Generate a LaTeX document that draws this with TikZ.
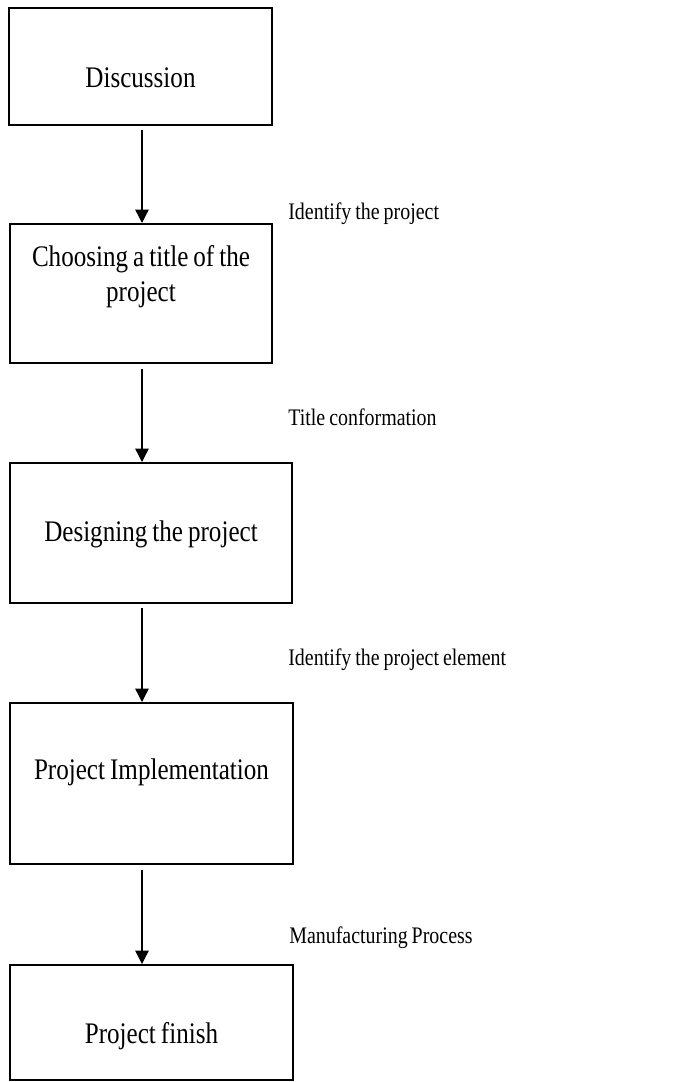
\documentclass[tikz,border=0pt]{standalone}
\usepackage{fontspec}
\setmainfont[FakeStretch=0.84, WordSpace=0.8]{Liberation Serif}
\usetikzlibrary{arrows.meta}

\begin{document}
\begin{tikzpicture}[x=0.02cm, y=-0.02cm,
    box/.style={draw, line width=1.4pt, inner sep=0pt, anchor=north,
      align=flush center, font=\fontsize{17}{20}\selectfont},
    flow/.style={line width=0.8pt, -{Triangle[length=0.27cm,width=0.27cm]}},
    note/.style={anchor=base west, inner sep=0pt,
      font=\fontsize{13.5}{16}\selectfont}]
\useasboundingbox (0,0) rectangle (673,1082);
\coordinate (axis) at (142,0);

% steps
\node[box, text width=5.26cm, text height=1.58cm, text depth=0.76cm] (disc) at (140.5,7) {Discussion};
\node[box, text width=5.24cm, text height=0.84cm, text depth=1.94cm] (title) at (141,223) {Choosing a title of the\\project};
\node[box, text width=5.64cm, text height=1.56cm, text depth=1.24cm] (design) at (151,462) {Designing the project};
\node[box, text width=5.66cm, text height=1.52cm, text depth=1.70cm] (impl) at (151.5,702) {Project Implementation};
\node[box, text width=5.66cm, text height=1.56cm, text depth=0.74cm] (finish) at (151.5,964) {Project finish};

% notes beside the arrows
\node[note] (n1) at (288,219) {Identify the project};
\node[note] (n2) at (288,425) {Title conformation};
\node[note] (n3) at (288,665) {Identify the project element};
\node[note] (n4) at (289,943) {Manufacturing Process};

\draw[flow] (disc.south -| axis) ++(0,4) -- (title.north -| axis);
\draw[flow] (title.south -| axis) ++(0,5) -- (design.north -| axis);
\draw[flow] (design.south -| axis) ++(0,4) -- (impl.north -| axis);
\draw[flow] (impl.south -| axis) ++(0,5) -- (finish.north -| axis);
\end{tikzpicture}
\end{document}
